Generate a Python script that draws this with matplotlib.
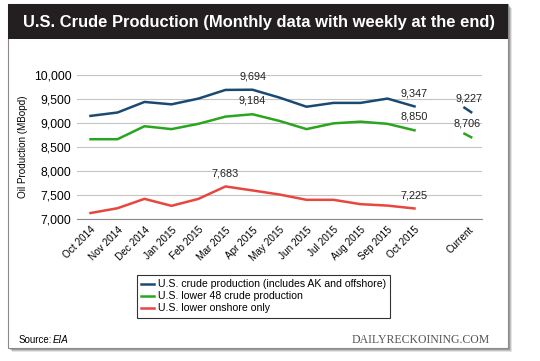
import matplotlib.pyplot as plt
from matplotlib.patches import Rectangle

plt.rcParams['font.family'] = ['Liberation Sans', 'DejaVu Sans']

months = ["Oct 2014", "Nov 2014", "Dec 2014", "Jan 2015", "Feb 2015", "Mar 2015",
          "Apr 2015", "May 2015", "Jun 2015", "Jul 2015", "Aug 2015", "Sep 2015",
          "Oct 2015"]
tick_labels = months + ["", "Current"]

us_total = [9150, 9220, 9440, 9390, 9510, 9690, 9694, 9530, 9340, 9420, 9420, 9510, 9347]
lower48 = [8665, 8665, 8935, 8875, 8985, 9135, 9184, 9045, 8875, 8995, 9030, 8985, 8850]
onshore = [7130, 7230, 7425, 7280, 7425, 7683, 7600, 7515, 7405, 7405, 7315, 7285, 7225]

# weekly data at the end ("Current")
us_total_weekly = [9320, 9227]
lower48_weekly = [8780, 8706]

labels_total = {6: "9,694", 12: "9,347"}
labels_l48 = {6: "9,184", 12: "8,850"}
labels_on = {5: "7,683", 12: "7,225"}

blue = "#1a4a72"
green = "#2aa51e"
red = "#e8463e"

fig = plt.figure(figsize=(5.4, 3.61), dpi=100)

# card with shadow
W, H = 540, 361
def px(x, y, w, h):
    return (x / W, 1 - (y + h) / H), w / W, h / H

for off, a in [(4, 0.10), (3, 0.15), (2, 0.2)]:
    xy, w, h = px(8 + off, 4 + off, 500, 344)
    fig.patches.append(Rectangle(xy, w, h, transform=fig.transFigure,
                                 facecolor="#000000", alpha=a, edgecolor="none", zorder=0))
xy, w, h = px(8, 4, 500, 344)
fig.patches.append(Rectangle(xy, w, h, transform=fig.transFigure, facecolor="white",
                             edgecolor="#8a8a8a", linewidth=0.8, zorder=1))
xy, w, h = px(8, 4, 500, 35)
fig.patches.append(Rectangle(xy, w, h, transform=fig.transFigure, facecolor="#231f20",
                             edgecolor="none", zorder=2))
fig.text(259 / W, 1 - 22 / H, "U.S. Crude Production (Monthly data with weekly at the end)",
         color="white", fontsize=11.9, fontweight="bold", ha="center", va="center", zorder=3)

ax = fig.add_axes([77 / W, 1 - 219.3 / H, 405 / W, 144.3 / H])
ax.set_zorder(4)
ax.set_facecolor("none")
x = list(range(len(months)))
ax.plot(x, us_total, color=blue, lw=1.8, label="U.S. crude production (includes AK and offshore)")
ax.plot(x, lower48, color=green, lw=1.8, label="U.S. lower 48 crude production")
ax.plot(x, onshore, color=red, lw=1.8, label="U.S. lower onshore only")
cur = len(tick_labels) - 1
ax.plot([cur - 0.15, cur + 0.1], us_total_weekly, color=blue, lw=1.8)
ax.plot([cur - 0.15, cur + 0.1], lower48_weekly, color=green, lw=1.8)

for series, labs in [(us_total, labels_total), (lower48, labels_l48), (onshore, labels_on)]:
    for i, t in labs.items():
        ax.annotate(t, (i, series[i]), xytext=(0, 6), textcoords="offset points",
                    ha="center", va="bottom", fontsize=7.8, color="#222222")
ax.annotate(f"{us_total_weekly[-1]:,}", (cur, us_total_weekly[-1]), xytext=(0, 6),
            textcoords="offset points", ha="center", va="bottom", fontsize=7.8, color="#222222")
ax.annotate(f"{lower48_weekly[-1]:,}", (cur, lower48_weekly[-1]), xytext=(-1, 6),
            textcoords="offset points", ha="center", va="bottom", fontsize=7.8, color="#222222")

ax.set_xlim(-0.5, len(tick_labels) - 0.5)
ax.set_ylim(7000, 10000)
ax.set_yticks(range(7000, 10001, 500))
ax.set_yticklabels([f"{v:,}" for v in range(7000, 10001, 500)], fontsize=8.7)
ax.set_xticks(range(len(tick_labels)))
ax.set_xticklabels(tick_labels, rotation=45, ha="right", rotation_mode="anchor", fontsize=7.2)
ax.tick_params(length=0, pad=4)
ax.grid(axis="y", color="#c4c4c4", lw=0.8)
ax.set_axisbelow(True)
for s in ["top", "left", "right"]:
    ax.spines[s].set_visible(False)
ax.spines["bottom"].set_color("#8c8c8c")
ax.set_ylabel("Oil Production (MBopd)", fontsize=7.1, labelpad=4)

leg = fig.legend(loc="upper left", bbox_to_anchor=(137 / W, 1 - 275 / H), fontsize=7.6,
                 frameon=True, fancybox=False, handlelength=1.2, handletextpad=0.4,
                 borderpad=0.4, labelspacing=0.2, borderaxespad=0)
leg.get_frame().set_edgecolor("black")
leg.get_frame().set_linewidth(0.8)
leg.set_zorder(5)

fig.text(19 / W, 1 - 340 / H, "Source:", fontsize=7.0, va="center", ha="left", zorder=5)
fig.text(53 / W, 1 - 340 / H, "EIA", fontsize=7.0, va="center", ha="left", style="italic", zorder=5)
fig.text(490 / W, 1 - 340 / H, "DAILYRECKOINING.COM", fontsize=8.5, va="center", ha="right",
         family="Liberation Serif", color="#555555", zorder=5)

fig.savefig("out.png", dpi=100)
